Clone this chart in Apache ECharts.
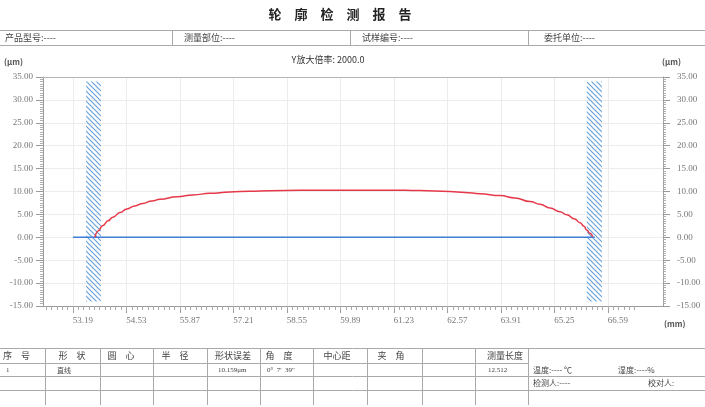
<!DOCTYPE html>
<html><head><meta charset="utf-8">
<script src="https://cdn.jsdelivr.net/npm/echarts@6/dist/echarts.min.js"></script>
<style>html,body{margin:0;padding:0;background:#fff}#c{width:705px;height:407px}</style>
</head><body><div id="c"></div>
<script>
// ---- data ----
const xRange = [52.44, 67.97];
const yRange = [-15, 35];
const yInterval = 5;
const xTickLabels = [53.19, 54.53, 55.87, 57.21, 58.55, 59.89, 61.23, 62.57, 63.91, 65.25, 66.59];
const xMinorStep = 0.134;
const profileX = [53.74, 53.82, 53.94, 54.07, 54.19, 54.37, 54.54, 54.74, 54.94, 55.17, 55.37, 55.80, 56.20, 56.62, 57.12, 57.62, 58.12, 58.88, 59.63, 60.38, 61.13, 61.88, 62.63, 63.01, 63.38, 63.89, 64.26, 64.64, 64.89, 65.14, 65.39, 65.56, 65.76, 65.89, 65.99, 66.06, 66.14, 66.21];
const profileY = [0, 1.4, 2.6, 3.6, 4.4, 5.4, 6.2, 6.85, 7.4, 7.95, 8.3, 8.85, 9.25, 9.6, 9.9, 10.05, 10.18, 10.25, 10.3, 10.3, 10.3, 10.2, 10.0, 9.8, 9.5, 9.1, 8.6, 7.8, 7.2, 6.4, 5.6, 4.9, 4.0, 3.2, 2.4, 1.6, 0.9, 0.1];
const baseX = [53.19, 66.26];
const baseY = [0, 0];
const bandLeft = [53.52, 53.89];
const bandRight = [66.06, 66.44];
const bandY = [-14, 34];

// ---- build ----
const minorTicks = [];
for (let k = -5; k <= 105; k++) minorTicks.push(+(xTickLabels[0] + k * xMinorStep).toFixed(3));

const pc = document.createElement('canvas'); pc.width = 5; pc.height = 5;
const g = pc.getContext('2d'); g.strokeStyle = '#6aa3da'; g.lineWidth = 1.2;
for (const c of [-5, 0, 5]) { g.beginPath(); g.moveTo(-2, -2 + c); g.lineTo(7, 7 + c); g.stroke(); }
const hatch = { image: pc, repeat: 'repeat' };

const CJK = '"Noto Sans CJK SC", sans-serif';
const NUM = '"Liberation Serif", "Noto Sans CJK SC", serif';
const gfx = [];
function T(text, x, y, size, opts) {
  opts = opts || {};
  gfx.push({ type: 'text', x: x, y: y, silent: true, style: {
    text: text, font: (opts.bold ? 'bold ' : '') + size + 'px ' + (opts.font || CJK),
    fill: opts.color || '#444', align: opts.align || 'left', verticalAlign: 'middle' } });
}
function L(x1, y1, x2, y2, c) {
  gfx.push({ type: 'line', silent: true, shape: { x1: x1, y1: y1, x2: x2, y2: y2 },
    style: { stroke: c || '#aaa', lineWidth: 1 } });
}
// header
T('轮　廓　检　测　报　告', 340, 14, 13, { bold: true, align: 'center', color: '#222' });
L(0, 30.5, 705, 30.5); L(0, 45.5, 705, 45.5);
[172.5, 350.5, 528.5].forEach(x => L(x, 30, x, 46));
T('产品型号:----', 5, 38, 9); T('测量部位:----', 184, 38, 9); T('试样编号:----', 362, 38, 9); T('委托单位:----', 544, 38, 9);
T('Y放大倍率: 2000.0', 328, 60, 9, { align: 'center', color: '#333' });
T('(μm)', 4, 62, 8, { bold: true, color: '#555' });
T('(μm)', 662, 62, 8, { bold: true, color: '#555' });
T('(mm)', 664, 324, 8, { bold: true, color: '#555' });
// table
L(0, 348.5, 705, 348.5); L(0, 363.5, 528, 363.5); L(0, 376.5, 705, 376.5); L(0, 390.5, 705, 390.5);
[45.5, 100.5, 153.5, 207.5, 260.5, 313.5, 367.5, 422.5, 475.5, 528.5].forEach(x => L(x, 348, x, 405));
T('序　号', 3, 356, 9); T('形　状', 72, 356, 9, { align: 'center' }); T('圆　心', 121, 356, 9, { align: 'center' });
T('半　径', 175, 356, 9, { align: 'center' }); T('形状误差', 233, 356, 9, { align: 'center' });
T('角　度', 279, 356, 9, { align: 'center' }); T('中心距', 337, 356, 9, { align: 'center' });
T('夹　角', 391, 356, 9, { align: 'center' }); T('测量长度', 505, 356, 9, { align: 'center' });
T('1', 6, 370, 7, { font: NUM }); T('直线', 57, 370, 7); T('10.159μm', 218, 370, 7, { font: NUM });
T('0°  7\'  39"', 267, 370, 7, { font: NUM }); T('12.512', 488, 370, 7, { font: NUM });
T('温度:---- ℃', 533, 370, 8); T('湿度:----%', 618, 370, 8);
T('检测人:----', 533, 383, 8); T('校对人:', 648, 383, 8);

const axisGrey = '#9a9a9a';
const yAxisBase = {
  type: 'value', min: yRange[0], max: yRange[1], interval: yInterval,
  axisLine: { show: true, lineStyle: { color: axisGrey } },
  axisTick: { show: true, length: 7, lineStyle: { color: axisGrey } },
  minorTick: { show: true, splitNumber: 10, length: 3, lineStyle: { color: '#b0b0b0' } },
  splitLine: { show: true, lineStyle: { color: '#ececec' } },
};

const chart = echarts.init(document.getElementById('c'));
chart.setOption({
  animation: false,
  backgroundColor: '#fff',
  grid: { left: 43, right: 42, top: 77, bottom: 101, containLabel: false, outerBoundsMode: 'none' },
  xAxis: [
    { type: 'value', min: xRange[0], max: xRange[1], position: 'bottom',
      axisLine: { show: true, onZero: false, lineStyle: { color: axisGrey } },
      axisTick: { show: true, length: 7, customValues: xTickLabels, lineStyle: { color: axisGrey } },
      axisLabel: { customValues: xTickLabels, margin: 10,
        formatter: v => '{a|' + v.toFixed(2) + '}',
        rich: { a: { padding: [0, 0, 0, 20], fontSize: 9, color: '#777', fontFamily: NUM } } },
      splitLine: { show: true, lineStyle: { color: '#ececec' } } },
    { type: 'value', min: xRange[0], max: xRange[1], position: 'bottom',
      axisLine: { show: false, onZero: false },
      axisTick: { show: true, length: 4, customValues: minorTicks, lineStyle: { color: '#aaa' } },
      axisLabel: { show: false }, splitLine: { show: false } },
    { type: 'value', min: xRange[0], max: xRange[1], position: 'top',
      axisLine: { show: true, onZero: false, lineStyle: { color: '#b5b5b5' } },
      axisTick: { show: false }, axisLabel: { show: false }, splitLine: { show: false } }
  ],
  yAxis: [
    Object.assign({}, yAxisBase, { position: 'left',
      axisLabel: { margin: 10, fontSize: 9, color: '#777', fontFamily: NUM, formatter: v => v.toFixed(2) } }),
    Object.assign({}, yAxisBase, { position: 'right', splitLine: { show: false },
      axisLabel: { margin: 14, fontSize: 9, color: '#777', fontFamily: NUM, formatter: v => v.toFixed(2) } })
  ],
  graphic: gfx,
  series: [
    { type: 'line', name: 'base', xAxisIndex: 0, yAxisIndex: 0, symbol: 'none',
      data: baseX.map((x, i) => [x, baseY[i]]),
      lineStyle: { color: '#3f7fd6', width: 1.5 },
      markArea: { silent: true, itemStyle: { color: hatch, borderWidth: 0 },
        data: [
          [{ xAxis: bandLeft[0], yAxis: bandY[0] }, { xAxis: bandLeft[1], yAxis: bandY[1] }],
          [{ xAxis: bandRight[0], yAxis: bandY[0] }, { xAxis: bandRight[1], yAxis: bandY[1] }]
        ] } },
    { type: 'line', name: 'profile', xAxisIndex: 0, yAxisIndex: 0, symbol: 'none', smooth: 0.5, smoothMonotone: 'x',
      data: profileX.map((x, i) => [x, profileY[i]]),
      lineStyle: { color: '#e5394a', width: 1.5 }, z: 3 }
  ]
});
</script></body></html>
